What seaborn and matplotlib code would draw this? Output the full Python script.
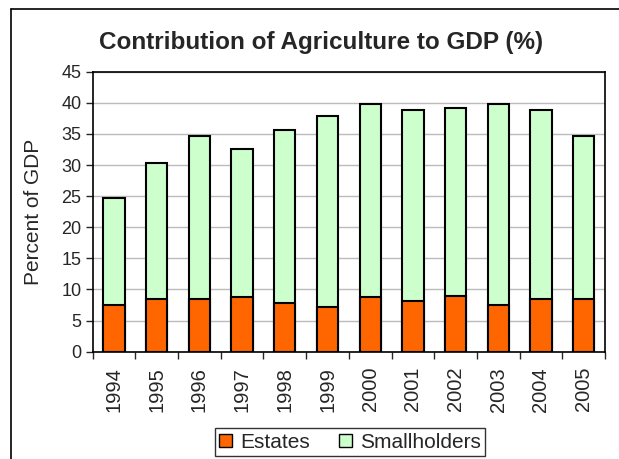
import matplotlib
matplotlib.use("Agg")
import matplotlib.pyplot as plt
import seaborn as sns
import pandas as pd
from matplotlib.patches import Patch
from matplotlib.lines import Line2D

years = ["1994", "1995", "1996", "1997", "1998", "1999", "2000", "2001", "2002", "2003", "2004", "2005"]
estates = [7.5, 8.5, 8.5, 8.75, 7.8, 7.2, 8.75, 8.15, 9.0, 7.5, 8.5, 8.5]
smallholders = [17.25, 21.8, 26.2, 23.75, 27.8, 30.6, 31.05, 30.65, 30.1, 32.3, 30.3, 26.2]

df = pd.DataFrame({"Year": years, "Estates": estates, "Smallholders": smallholders})
df["Total"] = df["Estates"] + df["Smallholders"]

sns.set_style("white")
plt.rcParams["font.family"] = ["Liberation Sans", "DejaVu Sans"]

W, H = 619, 459
fig = plt.figure(figsize=(W / 100, H / 100), dpi=100)
ax = fig.add_axes([92.7 / W, 1 - 351.7 / H, (605 - 92.7) / W, (351.7 - 71.7) / H])

c_est = "#FF6600"
c_small = "#CCFFCC"

sns.barplot(data=df, x="Year", y="Total", color=c_small, edgecolor="black",
            linewidth=1.5, width=0.5, ax=ax, saturation=1)
sns.barplot(data=df, x="Year", y="Estates", color=c_est, edgecolor="black",
            linewidth=1.5, width=0.5, ax=ax, saturation=1)

ax.set_ylim(0, 45)
ax.set_yticks(range(0, 46, 5))
ax.yaxis.grid(True, color="#BBBBBB", linewidth=1)
ax.set_axisbelow(True)
ax.set_xlim(-0.5, len(years) - 0.5)
for s in ax.spines.values():
    s.set_color("black")
    s.set_linewidth(1.2)
ax.tick_params(axis="x", labelrotation=90, labelsize=14.5, direction="out", length=0, pad=11)
ax.tick_params(axis="y", labelsize=13, direction="out", length=5, width=1, left=True, pad=3)
ax.set_xticks([i - 0.5 for i in range(len(years) + 1)], minor=True)
ax.tick_params(axis="x", which="minor", length=5, width=1, bottom=True)
ax.set_xlabel("")
ax.set_ylabel("Percent of GDP", fontsize=15, labelpad=13)

fig.text(321 / W, 1 - 42 / H, "Contribution of Agriculture to GDP (%)", ha="center", va="center",
         fontsize=17.5, fontweight="bold")

handles = [Patch(facecolor=c_est, edgecolor="black", label="Estates"),
           Patch(facecolor=c_small, edgecolor="black", label="Smallholders")]
leg = fig.legend(handles=handles, loc="center", bbox_to_anchor=(350 / W, 1 - 442 / H), ncol=2,
                 fontsize=15, frameon=True, fancybox=False, edgecolor="black",
                 handlelength=0.6, handleheight=0.6, handletextpad=0.4, columnspacing=1.4,
                 borderpad=0.2, borderaxespad=0)
leg.get_frame().set_linewidth(1)

fig.add_artist(Line2D([11 / W, 11 / W], [0, 1 - 9 / H], transform=fig.transFigure,
                      color="black", linewidth=1.2))
fig.add_artist(Line2D([11 / W, 1], [1 - 9 / H, 1 - 9 / H], transform=fig.transFigure,
                      color="black", linewidth=1.2))

fig.savefig("out.png", dpi=100)
